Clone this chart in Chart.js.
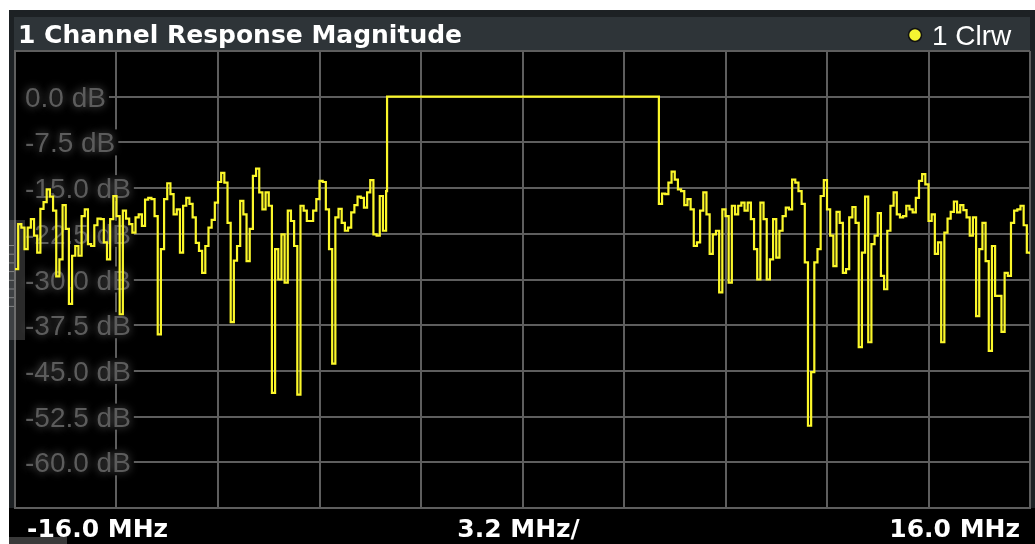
<!DOCTYPE html>
<html>
<head>
<meta charset="utf-8">
<script src="https://cdn.jsdelivr.net/npm/chart.js@4/dist/chart.umd.min.js"></script>
<style>
    html, body { margin: 0; padding: 0; background: #fff; }
    #wrap { position: absolute; left: 9px; top: 10px; width: 1026px; height: 534px; }
</style>
</head>
<body>
<div id="wrap"><canvas id="chart" width="1026" height="534"></canvas></div>
<script>
// sweep: -16 MHz .. 16 MHz, 3.2 MHz/div, ref level 7.5 dB, 7.5 dB/div
const TITLE = "1 Channel Response Magnitude";
const TRACE_LABEL = "1 Clrw";
const X_FOOTER = ["-16.0 MHz", "3.2 MHz/", "16.0 MHz"];
const Y_LABEL_VALUES = [0, -7.5, -15, -22.5, -30, -37.5, -45, -52.5, -60];

const X_MIN = -16, X_MAX = 16;
const Y_MIN = -67.5, Y_MAX = 7.5;

const binMHz = 0.1;
const leftStartMHz = -16.0;
const rightStartMHz = 4.3;
const passbandEdgesMHz = [-4.27, 4.27];
const passbandDb = 0.0;

// stop band left of the channel (dB), one value per bin
const leftNoiseDb = [
    -28.3, -20.9, -21.5, -25.0, -21.5, -20.1, -22.8, -25.6, -18.4, -17.3,
    -15.2, -16.4, -18.7, -29.5, -26.7, -17.8, -21.7, -34.0, -26.1, -24.5,
    -26.1, -19.6, -18.5, -24.2, -24.5, -21.1, -20.0, -20.1, -23.9, -26.7,
    -20.1, -16.3, -19.6, -35.7, -18.7, -20.0, -20.9, -22.3, -19.8, -19.3,
    -21.2, -16.9, -16.6, -16.8, -19.6, -39.0, -25.0, -16.8, -14.2, -16.0,
    -19.3, -18.5, -25.6, -17.9, -16.6, -17.6, -19.8, -24.0, -25.3, -28.9,
    -24.5, -21.5, -20.2, -17.4, -14.0, -12.5, -14.1, -20.7, -37.0, -26.9,
    -24.5, -17.1, -19.3, -27.0, -21.7, -13.0, -11.8, -15.7, -18.5, -15.7,
    -17.9, -48.6, -25.0, -30.0, -22.6, -30.5, -18.7, -20.4, -24.5, -48.9,
    -17.9, -18.7, -20.4, -20.4, -18.7, -16.8, -13.8, -14.0, -18.5, -25.0,
    -43.8, -19.8, -18.4, -20.7, -22.0, -21.5, -19.0, -17.8, -16.4, -16.6,
    -18.2, -15.7, -13.7, -22.6, -22.8, -16.3, -22.0, -15.5
];

// stop band right of the channel (dB)
const rightNoiseDb = [
    -17.6, -15.9, -16.0, -14.1, -12.3, -13.6, -15.2, -15.5, -17.8, -16.8,
    -18.5, -24.5, -23.9, -18.7, -15.7, -19.3, -25.8, -22.6, -22.0, -32.1,
    -18.5, -19.6, -30.5, -17.9, -19.3, -17.9, -17.4, -18.7, -17.4, -20.1,
    -25.0, -30.0, -17.4, -20.1, -30.0, -26.7, -20.1, -26.4, -22.0, -19.6,
    -18.2, -18.5, -13.6, -14.1, -15.5, -17.6, -27.2, -54.0, -45.2, -27.2,
    -25.0, -16.3, -13.7, -18.5, -22.8, -27.8, -18.9, -20.7, -28.9, -28.3,
    -19.8, -18.1, -20.7, -41.1, -25.6, -16.4, -40.3, -24.2, -22.8, -19.1,
    -29.4, -31.6, -22.0, -17.9, -15.7, -19.3, -19.8, -19.6, -17.9, -18.5,
    -19.0, -16.6, -13.8, -12.7, -14.4, -20.4, -19.3, -25.8, -23.9, -40.3,
    -22.3, -20.0, -18.9, -17.2, -19.0, -17.8, -18.6, -19.8, -22.8, -19.8,
    -36.0, -25.0, -20.7, -27.0, -41.7, -24.5, -32.7, -32.7, -38.6, -28.9,
    -29.4, -20.7, -18.7, -18.5, -17.9, -21.1, -25.6, -25.8
];

const TRACE = "#fbf72a";
const GRID = "#5e5e5e";
const FRAME = "#1d2124";
const TITLE_BAR = "#2e3438";

function bins(start, values) {
    return values.map((v, i) => ({ x: +(start + i * binMHz).toFixed(2), y: v }));
}

const tracePoints = [
    ...bins(leftStartMHz, leftNoiseDb),
    { x: passbandEdgesMHz[0], y: passbandDb },
    { x: passbandEdgesMHz[1], y: passbandDb },
    ...bins(rightStartMHz, rightNoiseDb)
];

const analyzerFrame = {
    id: "analyzerFrame",
    beforeDraw(c) {
        const { ctx, chartArea: a, width, height } = c;
        ctx.save();
        ctx.fillStyle = FRAME;
        ctx.fillRect(0, 0, width, height);
        ctx.fillStyle = TITLE_BAR;
        ctx.fillRect(5, 7, a.right - 5, a.top - 7);
        ctx.fillStyle = "#000";
        ctx.fillRect(0, a.bottom, width, height - a.bottom);
        ctx.fillRect(a.left, a.top, a.right - a.left, a.bottom - a.top);
        ctx.restore();
    },
    beforeDatasetsDraw(c) {
        const { ctx, chartArea: a } = c;
        const y = c.scales.y;
        ctx.save();
        ctx.font = '28px "Liberation Sans"';
        Y_LABEL_VALUES.forEach(v => {
            const py = y.getPixelForValue(v);
            const text = v.toFixed(1) + " dB";
            const tx = a.left + 10;
            const w = ctx.measureText(text).width;
            ctx.shadowBlur = 0;
            ctx.fillStyle = "#000";
            ctx.fillRect(a.left + 1, py - 13, tx + w + 3 - a.left - 1, 26);
            ctx.shadowColor = "rgba(120,120,120,0.85)";
            ctx.shadowBlur = 9;
            ctx.fillStyle = "#5c5c5c";
            ctx.fillText(text, tx, py + 10);
        });
        ctx.shadowBlur = 0;
        // side handle of the instrument window
        ctx.fillStyle = "rgba(150,150,150,0.28)";
        ctx.fillRect(0, 210, 16, 120);
        ctx.strokeStyle = "rgba(200,200,200,0.5)";
        ctx.lineWidth = 1;
        for (let i = 0; i < 8; i++) {
            const ty = 235.5 + i * 8.7;
            ctx.beginPath();
            ctx.moveTo(0, ty);
            ctx.lineTo(5, ty);
            ctx.stroke();
        }
        ctx.restore();
    },
    afterDraw(c) {
        const { ctx, chartArea: a, height } = c;
        ctx.save();
        ctx.fillStyle = "#fff";
        ctx.font = 'bold 25px "DejaVu Sans"';
        ctx.textAlign = "left";
        ctx.fillText(TITLE, 9, 33);

        ctx.beginPath();
        ctx.arc(906, 25, 6.5, 0, Math.PI * 2);
        ctx.fillStyle = "#f5f532";
        ctx.fill();
        ctx.lineWidth = 1.5;
        ctx.strokeStyle = "#111";
        ctx.stroke();
        ctx.fillStyle = "#fff";
        ctx.font = '28px "Liberation Sans"';
        ctx.fillText(TRACE_LABEL, 923, 35);

        ctx.font = 'bold 25px "DejaVu Sans"';
        const by = a.bottom + 29;
        ctx.textAlign = "left";
        ctx.fillText(X_FOOTER[0], a.left + 12, by);
        ctx.textAlign = "center";
        ctx.fillText(X_FOOTER[1], (a.left + a.right) / 2 - 4, by);
        ctx.textAlign = "right";
        ctx.fillText(X_FOOTER[2], a.right - 10, by);

        ctx.fillStyle = "#3a3a3a";
        ctx.fillRect(0, height - 7, 58, 7);
        ctx.restore();
    }
};

new Chart(document.getElementById("chart"), {
    type: "line",
    data: {
        datasets: [{
            data: tracePoints,
            borderColor: TRACE,
            borderWidth: 2.2,
            pointRadius: 0,
            stepped: true,
            fill: false
        }]
    },
    options: {
        responsive: false,
        animation: false,
        devicePixelRatio: 1,
        layout: { padding: { left: 6, top: 41, right: 5, bottom: 36 } },
        plugins: { legend: { display: false }, tooltip: { enabled: false } },
        scales: {
            x: {
                type: "linear",
                min: X_MIN,
                max: X_MAX,
                ticks: { display: false, count: 11 },
                grid: { color: GRID, lineWidth: 2, drawTicks: false },
                border: { color: GRID, width: 2 }
            },
            y: {
                type: "linear",
                min: Y_MIN,
                max: Y_MAX,
                ticks: { display: false, count: 11 },
                grid: { color: GRID, lineWidth: 2, drawTicks: false },
                border: { color: GRID, width: 2 }
            }
        }
    },
    plugins: [analyzerFrame]
});
</script>
</body>
</html>
